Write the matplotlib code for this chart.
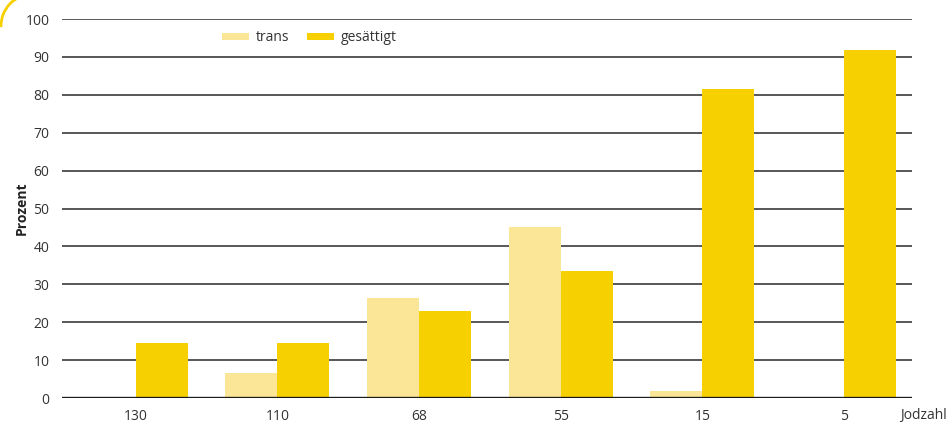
import matplotlib
matplotlib.use("Agg")
import matplotlib.pyplot as plt
from matplotlib.patches import Arc
import numpy as np

plt.rcParams['font.family'] = ['Open Sans', 'DejaVu Sans']

categories = ["130", "110", "68", "55", "15", "5"]
trans = [0, 6.6, 26.4, 45.1, 1.8, 0]
gesaettigt = [14.5, 14.5, 23.0, 33.5, 81.5, 91.8]
yticks = [0, 10, 20, 30, 40, 50, 60, 70, 80, 90, 100]

c_trans = "#FBE597"
c_sat = "#F6D000"
txt = "#333333"

W, H = 946, 425
fig = plt.figure(figsize=(W / 100, H / 100), dpi=100)
ax = fig.add_axes([62 / W, (H - 398) / H, (912 - 62) / W, (398 - 19) / H])

x = np.arange(len(categories))
w = 0.367
ax.bar(x - w, trans, width=w, align='edge', color=c_trans, label="trans", zorder=3)
ax.bar(x, gesaettigt, width=w, align='edge', color=c_sat, label="gesättigt", zorder=3)

ax.set_xlim(-0.52, 5.48)
ax.set_ylim(0, 100)
ax.set_yticks(yticks)
ax.set_xticks(x)
ax.set_xticklabels(categories)
ax.tick_params(axis='both', length=0, labelsize=10, colors=txt)
ax.tick_params(axis='y', pad=9)
ax.tick_params(axis='x', pad=8)
for t in yticks[1:]:
    ax.axhline(t, color="#2a2a2a", lw=1.1, zorder=1)
ax.axhline(0, color="#1a1a1a", lw=2.4, zorder=4)
for s in ax.spines.values():
    s.set_visible(False)

ax.set_ylabel("Prozent", fontsize=10, fontweight='bold', color="#222222", labelpad=-2)

leg = ax.legend(loc='upper left', bbox_to_anchor=(0.182, 0.985), ncol=2, frameon=False,
                fontsize=10, handlelength=1.9, handleheight=0.45, handletextpad=0.5,
                columnspacing=1.3, borderaxespad=0)
for t in leg.get_texts():
    t.set_color(txt)

fig.text(900 / W, (H - 415) / H, "Jodzahl", fontsize=10, color=txt, ha='left', va='center')

# decorative arc in top-left corner
ov = fig.add_axes([0, 0, 1, 1], facecolor='none')
ov.set_xlim(0, W)
ov.set_ylim(H, 0)
ov.axis('off')
ov.add_patch(Arc((33, 26), 64, 64, theta1=178, theta2=270, color=c_sat, lw=2.0))

fig.savefig("out.png", dpi=100)
